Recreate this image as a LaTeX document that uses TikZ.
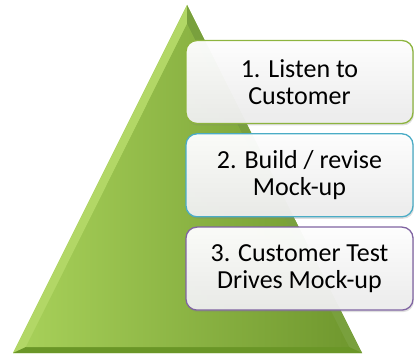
\documentclass[tikz,border=0pt]{standalone}
\usepackage{fontspec}
\setmainfont{Carlito}
\usetikzlibrary{positioning,shadows}

\definecolor{leafgreen}{HTML}{8CBE3A}
\definecolor{leaflight}{HTML}{B2D766}
\definecolor{leafdark}{HTML}{6A9627}
\definecolor{edgegreen}{HTML}{8DB43F}
\definecolor{edgeteal}{HTML}{4BACC6}
\definecolor{edgeviolet}{HTML}{8064A2}

\tikzset{
  stepbox/.style={draw, line width=1.3pt, rounded corners=11pt,
    minimum width=227pt, minimum height=83pt, align=center,
    font=\fontsize{26}{27}\selectfont,
    top color=white, bottom color=black!7,
    fill opacity=0.96, text opacity=1,
    drop shadow={opacity=0.25, shadow xshift=1pt, shadow yshift=-2pt}}
}

\begin{document}
\begin{tikzpicture}[x=1pt,y=1pt]
  \useasboundingbox (0,0) rectangle (414,358);
  % pyramid corners, outer and bevelled inner
  \coordinate (bl) at (13,5);
  \coordinate (br) at (362,5);
  \coordinate (apex) at (187,353);
  \coordinate (ibl) at (26,11);
  \coordinate (ibr) at (349,11);
  \coordinate (iapex) at (187,334);
  % pyramid body
  \shade[left color=leaflight!80!leafgreen, right color=leafgreen!85!black]
    (bl) -- (br) -- (apex) -- cycle;
  % bevel strips
  \fill[leaflight] (bl) -- (apex) -- (iapex) -- (ibl) -- cycle;
  \fill[leafdark!90] (br) -- (apex) -- (iapex) -- (ibr) -- cycle;
  \fill[leafdark] (bl) -- (br) -- (ibr) -- (ibl) -- cycle;
  \shade[left color=leaflight!70!leafgreen, right color=leafgreen!80!black]
    (ibl) -- (ibr) -- (iapex) -- cycle;

  % the three steps
  \node[stepbox, draw=edgegreen] (listen) at (299.5,276)
    {1. Listen to\\Customer};
  \node[stepbox, draw=edgeteal, below=9pt of listen] (build)
    {2. Build / revise\\Mock-up};
  \node[stepbox, draw=edgeviolet, below=9pt of build] (drive)
    {3. Customer Test\\Drives Mock-up};
\end{tikzpicture}
\end{document}
